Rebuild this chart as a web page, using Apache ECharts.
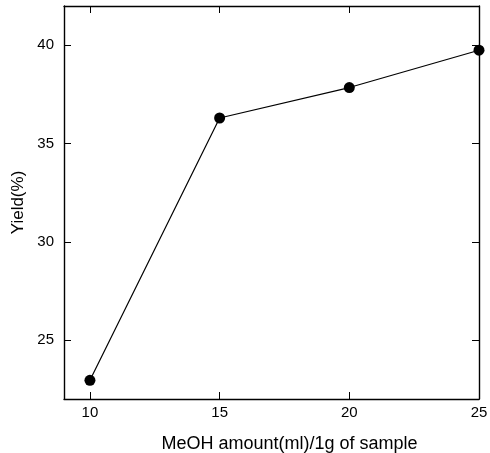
<!DOCTYPE html>
<html><head><meta charset="utf-8">
<script src="https://cdn.jsdelivr.net/npm/echarts@6/dist/echarts.min.js"></script>
<style>html,body{margin:0;padding:0;background:#fff}#c{width:490px;height:453px}</style>
</head><body><div id="c"></div>
<script>
const xValues = [10, 15, 20, 25];
const yieldValues = [22.95, 36.3, 37.85, 39.75];
const xTickValues = [10, 15, 20, 25];
const yTickValues = [25, 30, 35, 40];
const xTitle = 'MeOH amount(ml)/1g of sample';
const yTitle = 'Yield(%)';

const chart = echarts.init(document.getElementById('c'), null, {renderer: 'canvas'});
const font = 'Liberation Sans, Arial, sans-serif';
const axisBase = {
  axisLine: {show: true, onZero: false, lineStyle: {color: '#000', width: 1.4}},
  splitLine: {show: false}
};
const tick = vals => ({show: true, inside: true, length: 7, customValues: vals, lineStyle: {color: '#000', width: 1}});
chart.setOption({
  animation: false,
  grid: {left: 64, top: 6, right: 11, bottom: 54, containLabel: false, outerBoundsMode: 'none'},
  xAxis: [
    Object.assign({}, axisBase, {type: 'value', min: 9, max: 25,
      axisTick: tick(xTickValues),
      axisLabel: {color: '#000', fontFamily: font, fontSize: 15, margin: 6, customValues: xTickValues},
      name: xTitle, nameLocation: 'middle', nameGap: 36,
      nameTextStyle: {color: '#000', fontFamily: font, fontSize: 18, padding: [0, 0, 0, 36]}}),
    Object.assign({}, axisBase, {type: 'value', min: 9, max: 25, position: 'top',
      axisTick: tick(xTickValues), axisLabel: {show: false}})
  ],
  yAxis: [
    Object.assign({}, axisBase, {type: 'value', min: 22, max: 42,
      axisTick: tick(yTickValues),
      axisLabel: {color: '#000', fontFamily: font, fontSize: 15, margin: 10, customValues: yTickValues},
      name: yTitle, nameLocation: 'middle', nameGap: 36,
      nameTextStyle: {color: '#000', fontFamily: font, fontSize: 17}}),
    Object.assign({}, axisBase, {type: 'value', min: 22, max: 42, position: 'right',
      axisTick: tick(yTickValues), axisLabel: {show: false}})
  ],
  series: [{
    type: 'line',
    data: xValues.map((x, i) => [x, yieldValues[i]]),
    symbol: 'circle', symbolSize: 11,
    itemStyle: {color: '#000'},
    lineStyle: {color: '#000', width: 1.2},
    clip: false
  }]
});
</script></body></html>
